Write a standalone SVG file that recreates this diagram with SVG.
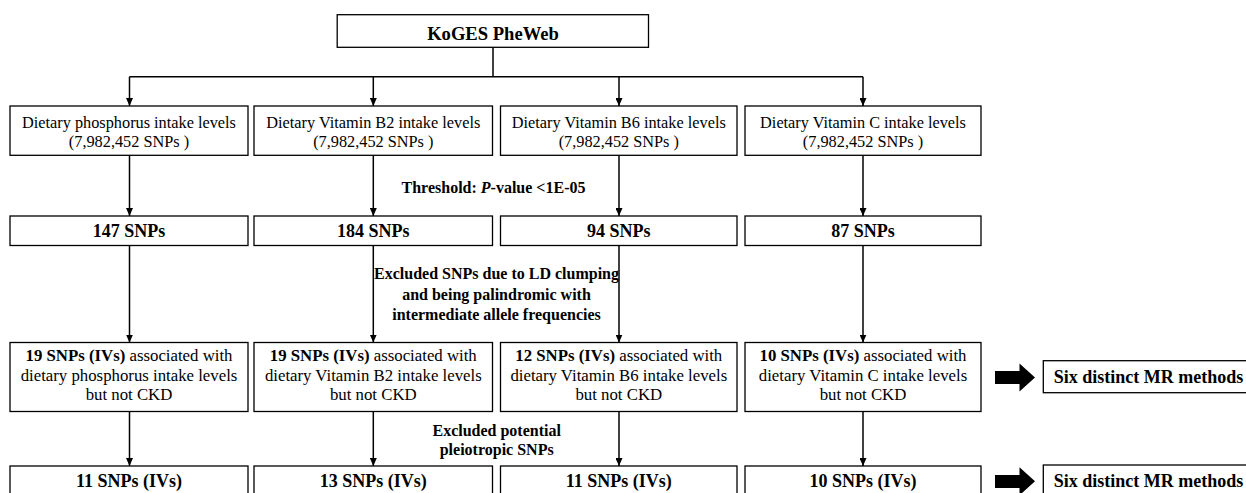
<svg xmlns="http://www.w3.org/2000/svg" width="1246" height="493" viewBox="0 0 1246 493">
<style>
.box{fill:#fff;stroke:#000;stroke-width:1.3}
.t{font-family:"Liberation Serif","Times New Roman",serif;fill:#000;text-anchor:middle}
.r{font-size:16.3px}
.r3{font-size:16.8px}
.b18{font-size:18px;font-weight:bold}
.b19{font-size:18.6px;font-weight:bold}
.b16{font-size:16px;font-weight:bold}
.ln{stroke:#000;stroke-width:1.5;fill:none}
.blk{fill:#000}
</style>
<defs>
<marker id="ah" viewBox="0 0 8 7" refX="8" refY="3.5" markerWidth="8" markerHeight="7" markerUnits="userSpaceOnUse" orient="auto">
<path d="M0,0 L8,3.5 L0,7 Z" fill="#000"/>
</marker>
</defs>

<g id="connectors">
<path class="ln" d="M493,47.3 V76.7" stroke-width="1.8"/>
<path class="ln" d="M129.5,76.7 H863" stroke-width="1.8"/>
<path class="ln" d="M129.5,76.7 V106" marker-end="url(#ah)"/>
<path class="ln" d="M373.3,76.7 V106" marker-end="url(#ah)"/>
<path class="ln" d="M619,76.7 V106" marker-end="url(#ah)"/>
<path class="ln" d="M863,76.7 V106" marker-end="url(#ah)"/>
<path class="ln" d="M129.5,155.3 V216" marker-end="url(#ah)"/>
<path class="ln" d="M373.3,155.3 V216" marker-end="url(#ah)"/>
<path class="ln" d="M619,155.3 V216" marker-end="url(#ah)"/>
<path class="ln" d="M863,155.3 V216" marker-end="url(#ah)"/>
<path class="ln" d="M129.5,245.5 V342.5" marker-end="url(#ah)"/>
<path class="ln" d="M373.3,245.5 V342.5" marker-end="url(#ah)"/>
<path class="ln" d="M619,245.5 V342.5" marker-end="url(#ah)"/>
<path class="ln" d="M863,245.5 V342.5" marker-end="url(#ah)"/>
<path class="ln" d="M129.5,411.5 V466" marker-end="url(#ah)"/>
<path class="ln" d="M373.3,411.5 V466" marker-end="url(#ah)"/>
<path class="ln" d="M619,411.5 V466" marker-end="url(#ah)"/>
<path class="ln" d="M863,411.5 V466" marker-end="url(#ah)"/>
<polygon class="blk" points="995,371 1019.5,371 1019.5,363.5 1035,377.5 1019.5,391.5 1019.5,384 995,384"/>
<polygon class="blk" points="995,475 1019.5,475 1019.5,467.3 1035,481.3 1019.5,495.3 1019.5,488 995,488"/>
</g>

<g id="labels">
<text class="t b16" x="493.5" y="192.6">Threshold: <tspan font-style="italic">P</tspan>-value &lt;1E-05</text>
<text class="t b16" x="496.5" y="279">Excluded SNPs due to LD clumping</text>
<text class="t b16" x="496.5" y="299.5">and being palindromic with</text>
<text class="t b16" x="496.5" y="320">intermediate allele frequencies</text>
<text class="t b16" x="496.7" y="435.5">Excluded potential</text>
<text class="t b16" x="496.7" y="455">pleiotropic SNPs</text>
</g>

<g id="koges">
<rect class="box" x="337.2" y="14.7" width="311.3" height="32.6"/>
<text class="t b19" x="493" y="39.5">KoGES PheWeb</text>
</g>

<g id="phos-input">
<rect class="box" x="10" y="106" width="238" height="49.3"/>
<text class="t r" x="129" y="128">Dietary phosphorus intake levels</text>
<text class="t r" x="129" y="146.5">(7,982,452 SNPs )</text>
</g>
<g id="b2-input">
<rect class="box" x="254" y="106" width="238.5" height="49.3"/>
<text class="t r" x="373.3" y="128">Dietary Vitamin B2 intake levels</text>
<text class="t r" x="373.3" y="146.5">(7,982,452 SNPs )</text>
</g>
<g id="b6-input">
<rect class="box" x="500.5" y="106" width="236.5" height="49.3"/>
<text class="t r" x="618.8" y="128">Dietary Vitamin B6 intake levels</text>
<text class="t r" x="618.8" y="146.5">(7,982,452 SNPs )</text>
</g>
<g id="c-input">
<rect class="box" x="745" y="106" width="236" height="49.3"/>
<text class="t r" x="863" y="128">Dietary Vitamin C intake levels</text>
<text class="t r" x="863" y="146.5">(7,982,452 SNPs )</text>
</g>

<g id="phos-snps">
<rect class="box" x="10" y="216" width="238" height="29.5"/>
<text class="t b18" x="129" y="237">147 SNPs</text>
</g>
<g id="b2-snps">
<rect class="box" x="254" y="216" width="238.5" height="29.5"/>
<text class="t b18" x="373.3" y="237">184 SNPs</text>
</g>
<g id="b6-snps">
<rect class="box" x="500.5" y="216" width="236.5" height="29.5"/>
<text class="t b18" x="618.8" y="237">94 SNPs</text>
</g>
<g id="c-snps">
<rect class="box" x="745" y="216" width="236" height="29.5"/>
<text class="t b18" x="863" y="237">87 SNPs</text>
</g>

<g id="phos-ivs">
<rect class="box" x="10" y="342.5" width="238" height="69"/>
<text class="t r3" x="129" y="360.5"><tspan font-weight="bold">19 SNPs (IVs)</tspan> associated with</text>
<text class="t r3" x="129" y="380.5">dietary phosphorus intake levels</text>
<text class="t r3" x="129" y="400">but not CKD</text>
</g>
<g id="b2-ivs">
<rect class="box" x="254" y="342.5" width="238.5" height="69"/>
<text class="t r3" x="373.3" y="360.5"><tspan font-weight="bold">19 SNPs (IVs)</tspan> associated with</text>
<text class="t r3" x="373.3" y="380.5">dietary Vitamin B2 intake levels</text>
<text class="t r3" x="373.3" y="400">but not CKD</text>
</g>
<g id="b6-ivs">
<rect class="box" x="500.5" y="342.5" width="236.5" height="69"/>
<text class="t r3" x="618.8" y="360.5"><tspan font-weight="bold">12 SNPs (IVs)</tspan> associated with</text>
<text class="t r3" x="618.8" y="380.5">dietary Vitamin B6 intake levels</text>
<text class="t r3" x="618.8" y="400">but not CKD</text>
</g>
<g id="c-ivs">
<rect class="box" x="745" y="342.5" width="236" height="69"/>
<text class="t r3" x="863" y="360.5"><tspan font-weight="bold">10 SNPs (IVs)</tspan> associated with</text>
<text class="t r3" x="863" y="380.5">dietary Vitamin C intake levels</text>
<text class="t r3" x="863" y="400">but not CKD</text>
</g>
<g id="mr-methods-1">
<rect class="box" x="1043.3" y="360.7" width="210" height="32"/>
<text class="t b18" x="1148.5" y="382.8">Six distinct MR methods</text>
</g>

<g id="phos-final">
<rect class="box" x="10" y="466" width="238" height="35"/>
<text class="t b18" x="129" y="487">11 SNPs (IVs)</text>
</g>
<g id="b2-final">
<rect class="box" x="254" y="466" width="238.5" height="35"/>
<text class="t b18" x="373.3" y="487">13 SNPs (IVs)</text>
</g>
<g id="b6-final">
<rect class="box" x="500.5" y="466" width="236.5" height="35"/>
<text class="t b18" x="618.8" y="487">11 SNPs (IVs)</text>
</g>
<g id="c-final">
<rect class="box" x="745" y="466" width="236" height="35"/>
<text class="t b18" x="863" y="487">10 SNPs (IVs)</text>
</g>
<g id="mr-methods-2">
<rect class="box" x="1043.3" y="465" width="210" height="35"/>
<text class="t b18" x="1148.5" y="487">Six distinct MR methods</text>
</g>
</svg>
